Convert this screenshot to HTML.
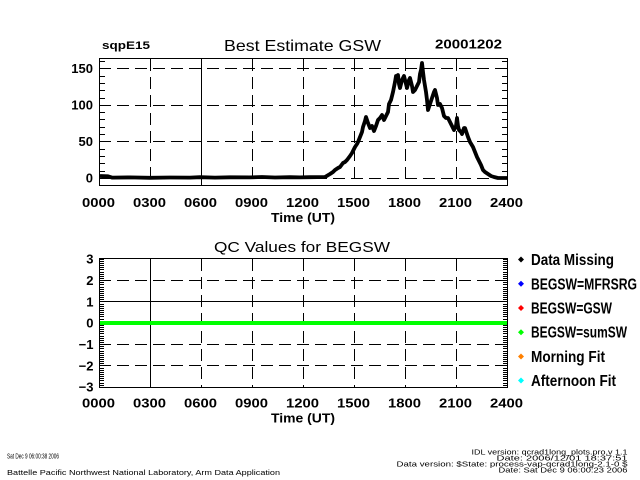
<!DOCTYPE html>
<html><head><meta charset="utf-8"><style>
html,body{margin:0;padding:0;background:#fff;}
svg{display:block;}
text{font-family:"Liberation Sans",sans-serif;fill:#000;}
.b{font-weight:bold;}
</style></head><body>
<svg width="640" height="480" viewBox="0 0 640 480" xmlns="http://www.w3.org/2000/svg">
<rect width="640" height="480" fill="#fff"/>

<!-- ===== TOP PLOT ===== -->
<text x="102" y="49" font-size="11" class="b" textLength="48" lengthAdjust="spacingAndGlyphs">sqpE15</text>
<text x="224" y="51" font-size="16" textLength="157" lengthAdjust="spacingAndGlyphs">Best Estimate GSW</text>
<text x="435" y="48.5" font-size="12.5" class="b" textLength="67" lengthAdjust="spacingAndGlyphs">20001202</text>

<g stroke="#000" stroke-width="1" fill="none">
  <line x1="99" y1="68.5" x2="507" y2="68.5" stroke-dasharray="12 6"/>
  <line x1="99" y1="105.5" x2="507" y2="105.5" stroke-dasharray="12 6"/>
  <line x1="99" y1="141.5" x2="507" y2="141.5" stroke-dasharray="12 6"/>
  <line x1="99" y1="178.5" x2="507" y2="178.5" stroke-dasharray="12 6"/>
  <line x1="150.5" y1="59" x2="150.5" y2="186" stroke-dasharray="12 6"/>
  <line x1="201.5" y1="59" x2="201.5" y2="186"/>
  <line x1="252.5" y1="59" x2="252.5" y2="186" stroke-dasharray="12 6"/>
  <line x1="303.5" y1="59" x2="303.5" y2="186" stroke-dasharray="12 6"/>
  <line x1="354.5" y1="59" x2="354.5" y2="186" stroke-dasharray="12 6"/>
  <line x1="405.5" y1="59" x2="405.5" y2="186" stroke-dasharray="12 6"/>
  <line x1="456.5" y1="59" x2="456.5" y2="186" stroke-dasharray="12 6"/>
  <!-- minor ticks -->
  <path d="M99 61.5h6M99 68.5h6M99 76.5h6M99 83.5h6M99 90.5h6M99 98.5h6M99 105.5h6M99 112.5h6M99 119.5h6M99 127.5h6M99 134.5h6M99 141.5h6M99 149.5h6M99 156.5h6M99 163.5h6M99 171.5h6M99 178.5h6M99 185.5h6"/>
  <path d="M502 61.5h6M502 68.5h6M502 76.5h6M502 83.5h6M502 90.5h6M502 98.5h6M502 105.5h6M502 112.5h6M502 119.5h6M502 127.5h6M502 134.5h6M502 141.5h6M502 149.5h6M502 156.5h6M502 163.5h6M502 171.5h6M502 178.5h6M502 185.5h6"/>
  <rect x="99.5" y="58.5" width="408" height="127"/>
</g>

<!-- data -->
<polyline fill="none" stroke="#000" stroke-width="3.8" stroke-linejoin="round" points="
100,176 108,176.3 112,177.6 130,177.4 150,177.8 170,177.5 190,177.6 200,177.2 215,177.6 230,177.3 250,177.4 262,177 275,177.5 290,177.2 300,177.4 310,177.2 325,177
330,174 333,172 335,170 338,168 340,167 343,163 345,162 347,160 350,156 352,153 353,151 355,147 357,144 358,142 360,137 362,132 363,127 365,121 366,117
368,123 370,128 372,126 374,131 376,126 378,120 380,118 382,115 384,120 386,116 388,112 389,104 391,100 392,96 393,92
395,82 396,76 397,80 398,75 399,84 400,88 402,80 404,76 406,84 407,88 409,80 410,78 412,86 413,92 415,90 417,86 419,82
420,74 421,70 422,63 423,72 424,80 426,92 427,100 428,110 430,104 432,98 434,92 435,90 437,98 438,105 440,104 442,108
444,116 446,118 448,118 450,122 452,126 454,130 456,126 457,118 458,126 459,130 461,132 462,134 464,128 465,128
467,134 468,137 470,142 473,147 475,152 477,157 479,161 481,165 483,170 485,172 488,174 491,176 494,177 498,178 507,178"/>

<g class="b" font-size="13" text-anchor="end">
  <text x="93" y="73">150</text>
  <text x="93" y="109.5">100</text>
  <text x="93" y="146">50</text>
  <text x="93" y="182.5">0</text>
</g>
<g class="b" font-size="13" text-anchor="middle">
  <text x="98.5" y="207" textLength="33" lengthAdjust="spacingAndGlyphs">0000</text>
  <text x="149.5" y="207" textLength="33" lengthAdjust="spacingAndGlyphs">0300</text>
  <text x="200.5" y="207" textLength="33" lengthAdjust="spacingAndGlyphs">0600</text>
  <text x="251.5" y="207" textLength="33" lengthAdjust="spacingAndGlyphs">0900</text>
  <text x="302.5" y="207" textLength="33" lengthAdjust="spacingAndGlyphs">1200</text>
  <text x="353.5" y="207" textLength="33" lengthAdjust="spacingAndGlyphs">1500</text>
  <text x="404.5" y="207" textLength="33" lengthAdjust="spacingAndGlyphs">1800</text>
  <text x="455.5" y="207" textLength="33" lengthAdjust="spacingAndGlyphs">2100</text>
  <text x="506.5" y="207" textLength="33" lengthAdjust="spacingAndGlyphs">2400</text>
</g>
<text x="271" y="222" font-size="13" class="b" textLength="64" lengthAdjust="spacingAndGlyphs">Time (UT)</text>

<!-- ===== BOTTOM PLOT ===== -->
<text x="214" y="252" font-size="15" textLength="176" lengthAdjust="spacingAndGlyphs">QC Values for BEGSW</text>

<g stroke="#000" stroke-width="1" fill="none">
  <line x1="99" y1="280.5" x2="507" y2="280.5" stroke-dasharray="12 6"/>
  <line x1="99" y1="301.5" x2="507" y2="301.5"/>
  <line x1="99" y1="344.5" x2="507" y2="344.5" stroke-dasharray="12 6"/>
  <line x1="99" y1="365.5" x2="507" y2="365.5" stroke-dasharray="12 6"/>
  <line x1="150.5" y1="259" x2="150.5" y2="388"/>
  <line x1="201.5" y1="259" x2="201.5" y2="388" stroke-dasharray="12 6"/>
  <line x1="252.5" y1="259" x2="252.5" y2="388" stroke-dasharray="12 6"/>
  <line x1="303.5" y1="259" x2="303.5" y2="388" stroke-dasharray="12 6"/>
  <line x1="354.5" y1="259" x2="354.5" y2="388" stroke-dasharray="12 6"/>
  <line x1="405.5" y1="259" x2="405.5" y2="388" stroke-dasharray="12 6"/>
  <line x1="456.5" y1="259" x2="456.5" y2="388" stroke-dasharray="12 6"/>
  <path d="M99 259.5h5M99 261.5h5M99 263.5h5M99 265.5h5M99 267.5h5M99 269.5h5M99 272.5h5M99 274.5h5M99 276.5h5M99 278.5h5M99 280.5h5M99 282.5h5M99 284.5h5M99 287.5h5M99 289.5h5M99 291.5h5M99 293.5h5M99 295.5h5M99 297.5h5M99 299.5h5M99 301.5h5M99 304.5h5M99 306.5h5M99 308.5h5M99 310.5h5M99 312.5h5M99 314.5h5M99 316.5h5M99 319.5h5M99 321.5h5M99 323.5h5M99 325.5h5M99 327.5h5M99 329.5h5M99 331.5h5M99 333.5h5M99 336.5h5M99 338.5h5M99 340.5h5M99 342.5h5M99 344.5h5M99 346.5h5M99 348.5h5M99 351.5h5M99 353.5h5M99 355.5h5M99 357.5h5M99 359.5h5M99 361.5h5M99 363.5h5M99 365.5h5M99 368.5h5M99 370.5h5M99 372.5h5M99 374.5h5M99 376.5h5M99 378.5h5M99 380.5h5M99 383.5h5M99 385.5h5M99 387.5h5"/>
  <path d="M503 259.5h5M503 261.5h5M503 263.5h5M503 265.5h5M503 267.5h5M503 269.5h5M503 272.5h5M503 274.5h5M503 276.5h5M503 278.5h5M503 280.5h5M503 282.5h5M503 284.5h5M503 287.5h5M503 289.5h5M503 291.5h5M503 293.5h5M503 295.5h5M503 297.5h5M503 299.5h5M503 301.5h5M503 304.5h5M503 306.5h5M503 308.5h5M503 310.5h5M503 312.5h5M503 314.5h5M503 316.5h5M503 319.5h5M503 321.5h5M503 323.5h5M503 325.5h5M503 327.5h5M503 329.5h5M503 331.5h5M503 333.5h5M503 336.5h5M503 338.5h5M503 340.5h5M503 342.5h5M503 344.5h5M503 346.5h5M503 348.5h5M503 351.5h5M503 353.5h5M503 355.5h5M503 357.5h5M503 359.5h5M503 361.5h5M503 363.5h5M503 365.5h5M503 368.5h5M503 370.5h5M503 372.5h5M503 374.5h5M503 376.5h5M503 378.5h5M503 380.5h5M503 383.5h5M503 385.5h5M503 387.5h5"/>
</g>
<line x1="99" y1="323" x2="507.5" y2="323" stroke="#00ff00" stroke-width="4"/>
<rect x="99.5" y="258.5" width="408" height="129" fill="none" stroke="#000" stroke-width="1"/>

<g class="b" font-size="13" text-anchor="end">
  <text x="93.5" y="263.5">3</text>
  <text x="93.5" y="285">2</text>
  <text x="93.5" y="306.5">1</text>
  <text x="93.5" y="327.5">0</text>
  <text x="93.5" y="349">−1</text>
  <text x="93.5" y="370.5">−2</text>
  <text x="93.5" y="391.5">−3</text>
</g>
<g class="b" font-size="13" text-anchor="middle">
  <text x="98.5" y="407.5" textLength="33" lengthAdjust="spacingAndGlyphs">0000</text>
  <text x="149.5" y="407.5" textLength="33" lengthAdjust="spacingAndGlyphs">0300</text>
  <text x="200.5" y="407.5" textLength="33" lengthAdjust="spacingAndGlyphs">0600</text>
  <text x="251.5" y="407.5" textLength="33" lengthAdjust="spacingAndGlyphs">0900</text>
  <text x="302.5" y="407.5" textLength="33" lengthAdjust="spacingAndGlyphs">1200</text>
  <text x="353.5" y="407.5" textLength="33" lengthAdjust="spacingAndGlyphs">1500</text>
  <text x="404.5" y="407.5" textLength="33" lengthAdjust="spacingAndGlyphs">1800</text>
  <text x="455.5" y="407.5" textLength="33" lengthAdjust="spacingAndGlyphs">2100</text>
  <text x="506.5" y="407.5" textLength="33" lengthAdjust="spacingAndGlyphs">2400</text>
</g>
<text x="271" y="422.5" font-size="13" class="b" textLength="64" lengthAdjust="spacingAndGlyphs">Time (UT)</text>

<!-- legend -->
<g>
  <path d="M521 256.5 L524 259.5 L521 262.5 L518 259.5 Z" fill="#000"/>
  <path d="M521 280.8 L524 283.8 L521 286.8 L518 283.8 Z" fill="#0000ff"/>
  <path d="M521 305 L524 308 L521 311 L518 308 Z" fill="#ff0000"/>
  <path d="M521 329.2 L524 332.2 L521 335.2 L518 332.2 Z" fill="#00ff00"/>
  <path d="M521 353.5 L524 356.5 L521 359.5 L518 356.5 Z" fill="#ff8000"/>
  <path d="M521 377.5 L524 380.5 L521 383.5 L518 380.5 Z" fill="#00ffff"/>
</g>
<g class="b" font-size="16">
  <text x="531" y="265" textLength="83" lengthAdjust="spacingAndGlyphs">Data Missing</text>
  <text x="531" y="289.3" textLength="106" lengthAdjust="spacingAndGlyphs">BEGSW=MFRSRG</text>
  <text x="531" y="313.5" textLength="81" lengthAdjust="spacingAndGlyphs">BEGSW=GSW</text>
  <text x="531" y="337.7" textLength="96" lengthAdjust="spacingAndGlyphs">BEGSW=sumSW</text>
  <text x="531" y="362" textLength="74" lengthAdjust="spacingAndGlyphs">Morning Fit</text>
  <text x="531" y="386" textLength="85" lengthAdjust="spacingAndGlyphs">Afternoon Fit</text>
</g>

<!-- footer -->
<g font-size="7.5">
  <text x="7" y="458.5" textLength="52" lengthAdjust="spacingAndGlyphs">Sat Dec  9 06:00:38 2006</text>
  <text x="7" y="475" textLength="273" lengthAdjust="spacingAndGlyphs">Battelle Pacific Northwest National Laboratory, Arm Data Application</text>
</g>
<g font-size="7.5" text-anchor="end">
  <text x="627.5" y="454.5" textLength="156" lengthAdjust="spacingAndGlyphs">IDL version: qcrad1long_plots.pro,v 1.1</text>
  <text x="627.5" y="460.5" textLength="131" lengthAdjust="spacingAndGlyphs">Date: 2006/12/01 18:37:51</text>
  <text x="627.5" y="466.5" textLength="231" lengthAdjust="spacingAndGlyphs">Data version: $State: process-vap-qcrad1long-2.1-0 $</text>
  <text x="627.5" y="472.5" textLength="129" lengthAdjust="spacingAndGlyphs">Date: Sat Dec  9 06:00:23 2006</text>
</g>
</svg>
</body></html>
